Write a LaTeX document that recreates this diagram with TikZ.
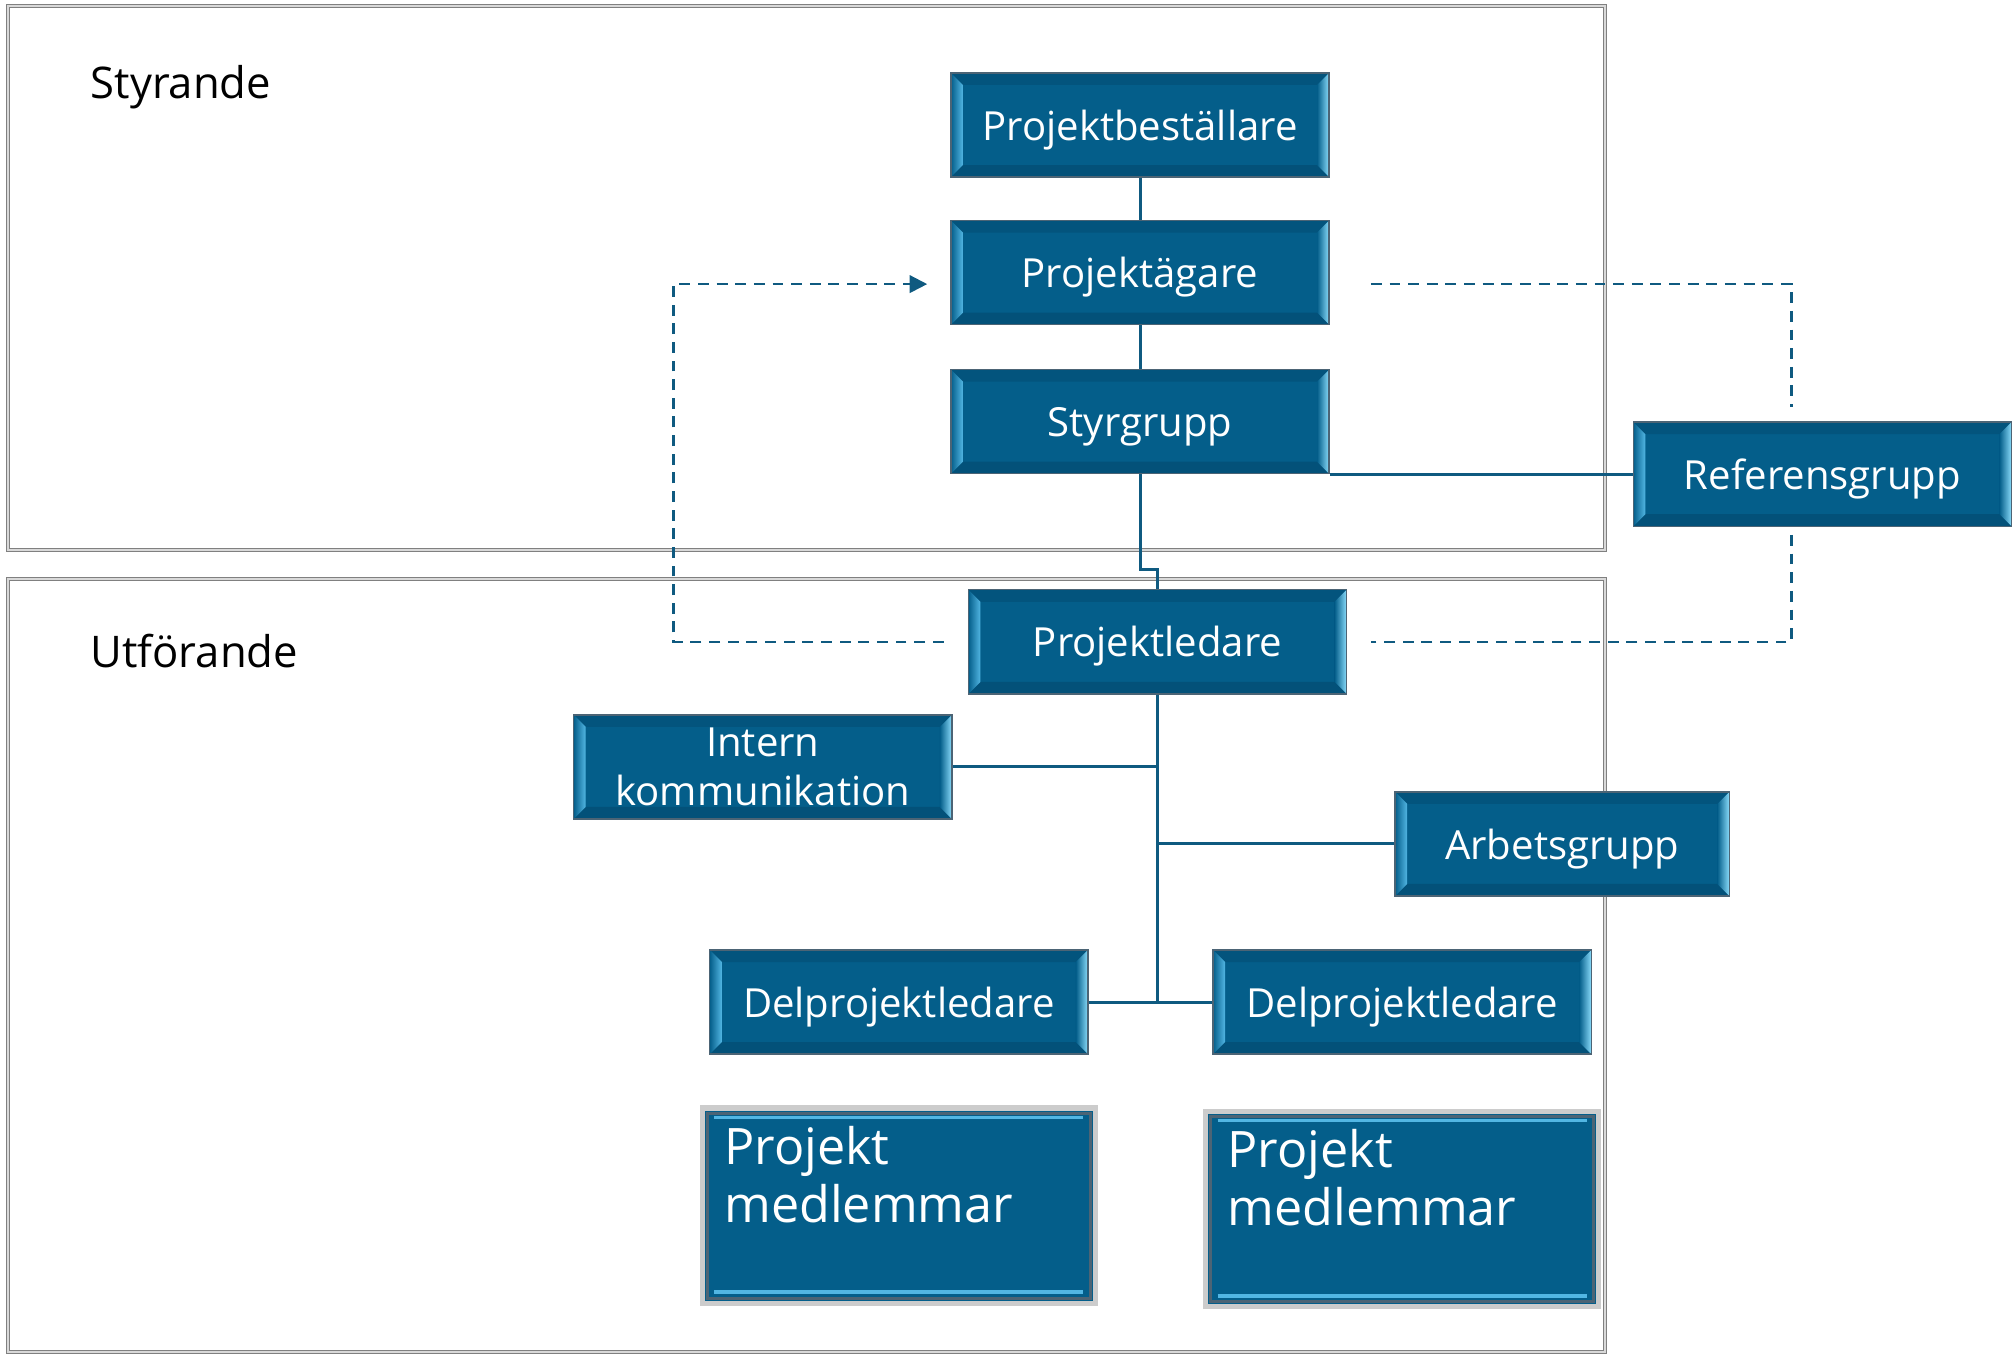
\documentclass[tikz,border=0pt]{standalone}
\usepackage{fontspec}
\setmainfont{Open Sans}
\usepackage{tikz}
\usetikzlibrary{arrows.meta,positioning,calc}

\definecolor{boxblue}{HTML}{045E8A}
\definecolor{boxedge}{HTML}{4C6475}
\definecolor{bevtop}{HTML}{03547D}
\definecolor{bevbot}{HTML}{035179}
\definecolor{bevleft}{HTML}{52B6E3}
\definecolor{bevright}{HTML}{8ADCFB}
\definecolor{linkblue}{HTML}{0F5A80}
\definecolor{ramgray}{HTML}{808080}

\begin{document}
\begin{tikzpicture}[
      x=0.01cm, y=-0.01cm,
      every node/.style={on grid},
      orgbox/.style={draw=boxedge, line width=0.4pt, fill=boxblue, text=white,
        minimum width=3.78cm, minimum height=1.04cm, inner sep=0pt, align=center,
        text height=1.1em, text depth=0.24em,
        font=\fontsize{11.4}{14}\selectfont,
        path picture={
          \path (path picture bounding box.north west) coordinate (bnw)
                (path picture bounding box.north east) coordinate (bne)
                (path picture bounding box.south east) coordinate (bse)
                (path picture bounding box.south west) coordinate (bsw);
          \fill[bevtop] (bnw) -- (bne) -- ($(bne)+(-1.2mm,-1.2mm)$) -- ($(bnw)+(1.2mm,-1.2mm)$) -- cycle;
          \fill[bevbot] (bsw) -- (bse) -- ($(bse)+(-1.2mm,1.2mm)$) -- ($(bsw)+(1.2mm,1.2mm)$) -- cycle;
          \shade[left color=boxblue, right color=bevleft] (bnw) -- ($(bnw)+(1.2mm,-1.2mm)$) -- ($(bsw)+(1.2mm,1.2mm)$) -- (bsw) -- cycle;
          \shade[left color=boxblue, right color=bevright] (bne) -- ($(bne)+(-1.2mm,-1.2mm)$) -- ($(bse)+(-1.2mm,1.2mm)$) -- (bse) -- cycle;
        }},
      memberbox/.style={draw=gray!40, line width=1.5pt, fill=boxblue, text=white,
        minimum width=3.93cm, minimum height=1.95cm, inner xsep=0.22cm, inner ysep=0.18cm,
        font=\fontsize{14.3}{16.5}\selectfont,
        path picture={
          \draw[boxedge, line width=0.8pt] ($(path picture bounding box.north west)+(0.5mm,-0.5mm)$) rectangle ($(path picture bounding box.south east)+(-0.5mm,0.5mm)$);
          \draw[bevleft, line width=0.9pt] ($(path picture bounding box.north west)+(1.2mm,-0.9mm)$) -- ($(path picture bounding box.north east)+(-1.2mm,-0.9mm)$);
          \draw[bevleft, line width=1.1pt] ($(path picture bounding box.south west)+(1.2mm,1.1mm)$) -- ($(path picture bounding box.south east)+(-1.2mm,1.1mm)$);
        }},
      ramme/.style={draw=ramgray, line width=0.4pt, double=gray!30, double distance=0.5pt},
      seksjon/.style={anchor=base west, inner sep=0pt, font=\fontsize{12.4}{15}\selectfont},
      link/.style={draw=linkblue, line width=0.85pt},
      dashlink/.style={draw=linkblue, line width=0.65pt, dash pattern=on 3.1pt off 2.2pt},
      >={Triangle[length=5pt,width=5pt]}
    ]
    \useasboundingbox (0,0) rectangle (2016,1354);

    % the two frames
    \draw[ramme] (8,6) rectangle (1605,550);
    \draw[ramme] (8,579) rectangle (1605,1352);
    \node[seksjon] (styrande) at (90,98) {Styrande};
    \node[seksjon] (utforande) at (90,667) {Utförande};

    % styrande part
    \node[orgbox] (best) at (1140,125) {Projektbeställare};
    \node[orgbox, below=1.475cm of best] (agare) {Projektägare};
    \node[orgbox, below=1.49cm of agare] (styr) {Styrgrupp};
    \node[orgbox, below right=0.525cm and 6.82cm of styr] (ref) {Referensgrupp};

    % utforande part
    \node[orgbox, below right=2.2cm and 0.175cm of styr] (ledare) {Projektledare};
    \node[orgbox, text height={}, text depth={}, below left=1.25cm and 3.945cm of ledare] (intern) {Intern\\kommunikation};
    \node[orgbox, minimum width=3.34cm, below right=2.02cm and 4.045cm of ledare] (arbete) {Arbetsgrupp};
    \node[orgbox, below left=3.6cm and 2.585cm of ledare] (delA) {Delprojektledare};
    \node[orgbox, below right=3.6cm and 2.445cm of ledare] (delB) {Delprojektledare};
    \node[memberbox, below=2.035cm of delA] (medA) {\parbox[c][1.59cm][t]{3.49cm}{\raggedright Projekt\\medlemmar}};
    \node[memberbox, below=2.07cm of delB] (medB) {\parbox[c][1.59cm][t]{3.49cm}{\raggedright Projekt\\medlemmar}};

    % the solid lines
    \draw[link] (best) -- (agare);
    \draw[link] (agare) -- (styr);
    \draw[link] (ref.west) -- (ref.west -| styr.east);
    \draw[link] (styr.south) -- ++(0,-0.95cm) -| (ledare.north);
    \draw[link] (ledare.south) -- (ledare.south |- delA.east);
    \draw[link] (intern.east) -- (intern.east -| ledare.south);
    \draw[link] (arbete.west) -- (arbete.west -| ledare.south);
    \draw[link] (delA.east) -- (delB.west);

    % the dashed lines
    \draw[dashlink, ->] ([xshift=-2.4mm]ledare.west) -- ++(-2.70cm,0) |- ([xshift=-2.3mm,yshift=-1.15mm]agare.west);
    \draw[dashlink] ([xshift=4.1mm,yshift=-1.15mm]agare.east) -| ([xshift=-3.1mm,yshift=1.4mm]ref.north);
    \draw[dashlink] ([xshift=-3.1mm,yshift=-0.8mm]ref.south) |- ([xshift=2.35mm]ledare.east);
\end{tikzpicture}
\end{document}
